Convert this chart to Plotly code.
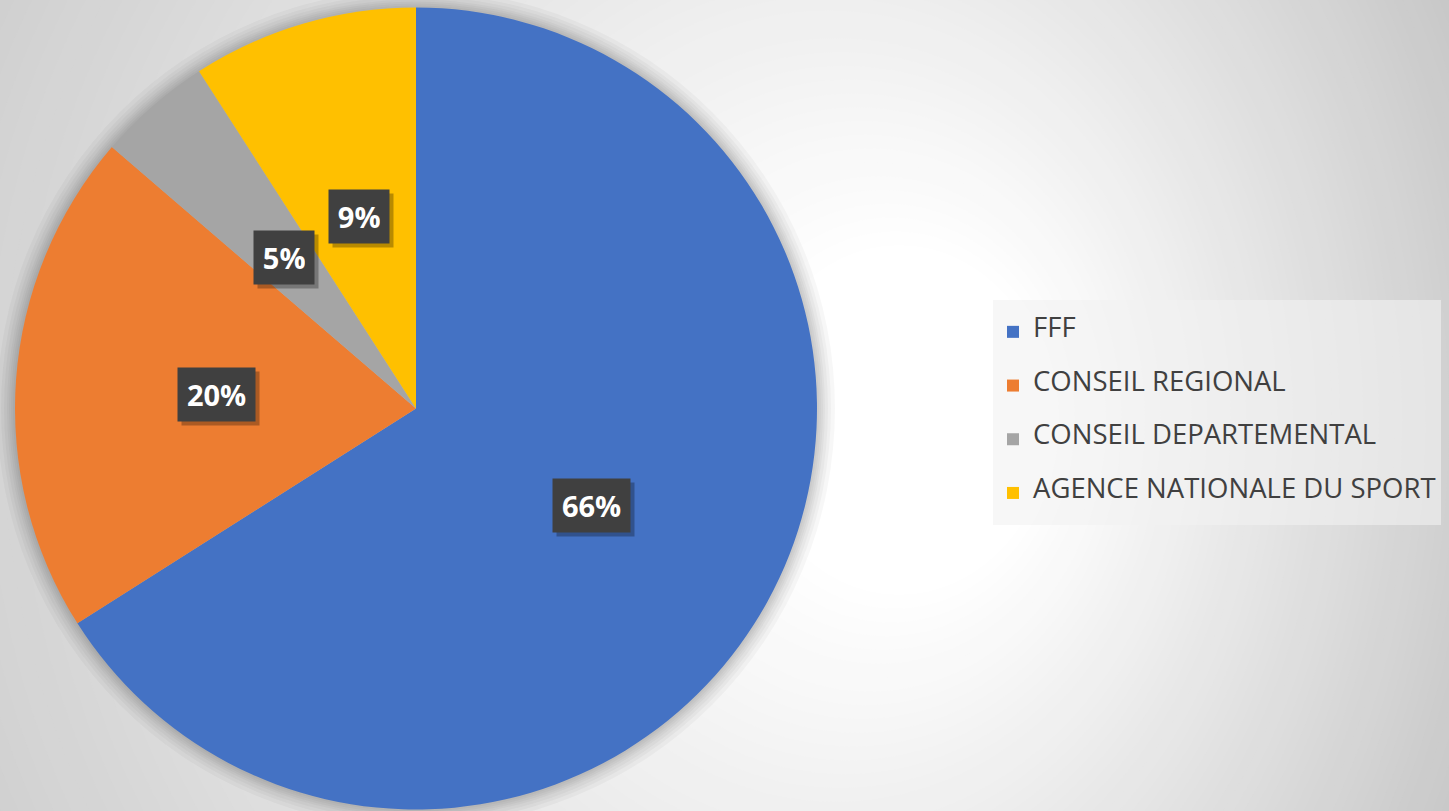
import math
import plotly.graph_objects as go

# ---- data ----
categories = ["FFF", "CONSEIL REGIONAL", "CONSEIL DEPARTEMENTAL", "AGENCE NATIONALE DU SPORT"]
values = [66.0, 20.3, 4.6, 9.1]
colors = ["#4472C4", "#ED7D31", "#A5A5A5", "#FFC000"]

# ---- layout constants ----
W, H = 1449, 811
CX, CY = 416, 408.5        # pie centre (px, from top-left)
R = 401                    # pie radius (px)
LABEL_SIZE = 29

fig = go.Figure()

legend_labels = [
    "<br><span style='font-size:27.5px'>%s</span><br> " % c for c in categories
]

fig.add_trace(go.Pie(
    labels=legend_labels,
    values=values,
    marker=dict(colors=colors, line=dict(width=0)),
    sort=False,
    direction="clockwise",
    rotation=0,
    textinfo="none",
    textposition="none",
    hoverinfo="skip",
    domain=dict(x=[(CX - R) / W, (CX + R) / W],
                y=[(H - CY - R) / H, (H - CY + R) / H]),
))

shapes = []
# background radial-ish gradient
rx = 1100
while rx >= 150:
    g = max(190, int(round(255 - 0.075 * (rx - 150))))
    ry = rx * 1.15
    ex = 900 - 0.35 * (rx - 150)
    ey = 420
    shapes.append(dict(type="circle", xref="paper", yref="paper", layer="below",
                       x0=(ex - rx) / W, x1=(ex + rx) / W,
                       y0=1 - (ey + ry) / H, y1=1 - (ey - ry) / H,
                       fillcolor="rgb(%d,%d,%d)" % (g, g, g), line=dict(width=0)))
    rx -= 12
# soft shadow around the pie
for d in [18, 14, 11, 8, 6, 4, 2]:
    r = R + d
    shapes.append(dict(type="circle", xref="paper", yref="paper", layer="below",
                       x0=(CX - r) / W, x1=(CX + r) / W,
                       y0=1 - (CY + r) / H, y1=1 - (CY - r) / H,
                       fillcolor="rgba(0,0,0,0.03)", line=dict(width=0)))

# data labels (dark boxes) placed at half radius along each slice's mid-angle
total = sum(values)
annotations = []
cum = 0.0
for v in values:
    mid = (cum + v / 2) / total * 2 * math.pi
    cum += v
    px = CX + 0.5 * R * math.sin(mid)
    py = CY - 0.5 * R * math.cos(mid)
    pct = "%d" % round(v / total * 100)
    box_w = LABEL_SIZE * (0.58 * len(pct) + 0.88)
    base = dict(xref="paper", yref="paper", x=px / W, y=1 - py / H,
                xanchor="center", yanchor="middle", showarrow=False,
                borderpad=9, height=35, width=box_w)
    annotations.append(dict(base, xshift=4, yshift=-4, text="&nbsp;",
                            font=dict(family="Open Sans", size=LABEL_SIZE, color="rgba(0,0,0,0)"),
                            bgcolor="rgba(0,0,0,0.28)"))
    annotations.append(dict(base, text="<b>%s%%</b>" % pct,
                            font=dict(family="Open Sans", size=LABEL_SIZE, color="#FFFFFF"),
                            bgcolor="#404040"))

fig.update_layout(
    width=W, height=H,
    margin=dict(l=0, r=0, t=0, b=0),
    paper_bgcolor="#C8C8C8",
    plot_bgcolor="rgba(0,0,0,0)",
    shapes=shapes,
    annotations=annotations,
    showlegend=True,
    legend=dict(
        x=993 / W, y=1 - 300 / H, xanchor="left", yanchor="top",
        bgcolor="rgba(242,242,242,0.6)",
        borderwidth=0,
        font=dict(family="Open Sans", size=13, color="#404040"),
        traceorder="normal",
    ),
)

fig.write_html("out.html",
               config={"displayModeBar": False},
               post_script="document.body.style.margin='0';document.body.style.overflow='hidden';")
